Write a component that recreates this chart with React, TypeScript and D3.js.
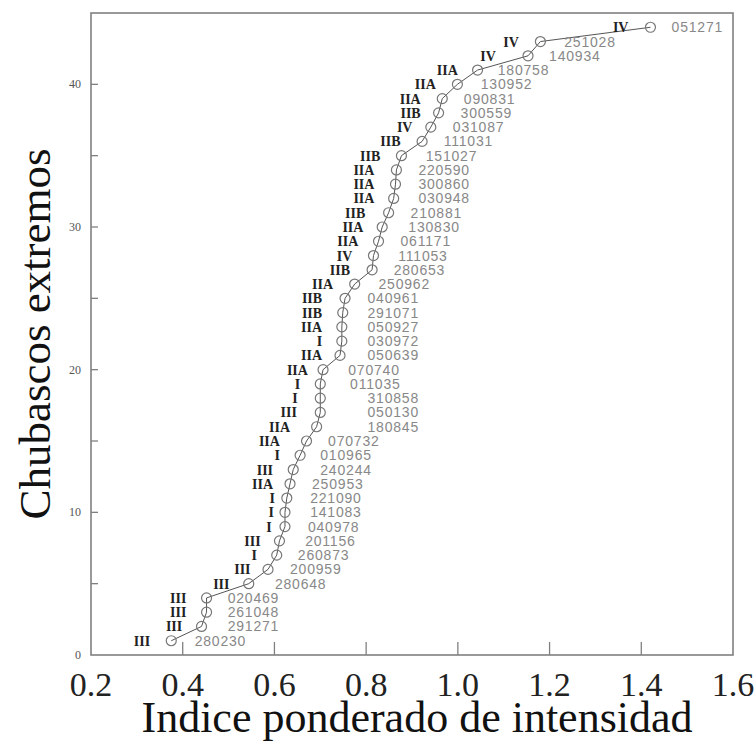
import React from "react";
import * as d3 from "d3";

const rank = d3.range(1, 45);
const indexValues = [
  0.375, 0.441, 0.452, 0.452, 0.544, 0.586, 0.605, 0.611, 0.623, 0.623,
  0.627, 0.634, 0.641, 0.656, 0.670, 0.692, 0.700, 0.700, 0.700, 0.706,
  0.743, 0.747, 0.747, 0.749, 0.754, 0.775, 0.813, 0.816, 0.827, 0.835,
  0.849, 0.860, 0.864, 0.866, 0.877, 0.922, 0.941, 0.958, 0.966, 0.999,
  1.043, 1.153, 1.180, 1.420,
];
const dates = [
  "280230", "291271", "261048", "020469", "280648", "200959", "260873", "201156", "040978", "141083",
  "221090", "250953", "240244", "010965", "070732", "180845", "050130", "310858", "011035", "070740",
  "050639", "030972", "050927", "291071", "040961", "250962", "280653", "111053", "061171", "130830",
  "210881", "030948", "300860", "220590", "151027", "111031", "031087", "300559", "090831", "130952",
  "180758", "140934", "251028", "051271",
];
const types = [
  "III", "III", "III", "III", "III", "III", "I", "III", "I", "I",
  "I", "IIA", "III", "I", "IIA", "IIA", "III", "I", "I", "IIA",
  "IIA", "I", "IIA", "IIB", "IIB", "IIA", "IIB", "IV", "IIA", "IIA",
  "IIB", "IIA", "IIA", "IIA", "IIB", "IIB", "IV", "IIB", "IIA", "IIA",
  "IIA", "IV", "IV", "IV",
];
// label anchors in index units
const dateLabelX = [
  0.426, 0.498, 0.498, 0.498, 0.601, 0.634, 0.651, 0.667, 0.673, 0.678,
  0.678, 0.682, 0.700, 0.700, 0.717, 0.803, 0.803, 0.803, 0.765, 0.761,
  0.803, 0.803, 0.803, 0.803, 0.803, 0.827, 0.860, 0.870, 0.875, 0.892,
  0.897, 0.914, 0.914, 0.914, 0.930, 0.969, 0.989, 1.006, 1.013, 1.050,
  1.087, 1.199, 1.232, 1.466,
];
const typeLabelX = [
  0.329, 0.399, 0.408, 0.408, 0.502, 0.548, 0.562, 0.570, 0.594, 0.599,
  0.601, 0.597, 0.597, 0.612, 0.612, 0.634, 0.649, 0.651, 0.656, 0.673,
  0.704, 0.704, 0.704, 0.704, 0.704, 0.728, 0.765, 0.770, 0.783, 0.794,
  0.798, 0.818, 0.818, 0.818, 0.831, 0.875, 0.901, 0.919, 0.919, 0.952,
  1.000, 1.083, 1.133, 1.372,
];
const xTicks = [0.2, 0.4, 0.6, 0.8, 1.0, 1.2, 1.4, 1.6];
const yTicks = [0, 10, 20, 30, 40];
const yMinorTicks = [5, 15, 25, 35];

export default function App() {
  const W = 755, H = 742;
  const left = 91, right = 733, top = 13, bottom = 655;
  const x = d3.scaleLinear().domain([0.2, 1.6]).range([left, right]);
  const y = d3.scaleLinear().domain([0, 45]).range([bottom, top]);
  const line = d3.line<number>().x((d) => x(indexValues[d])).y((d) => y(rank[d]));
  const idx = d3.range(indexValues.length);
  const frame = "#808080";
  return (
    <svg width={W} height={H} style={{ position: "absolute", left: 0, top: 0, background: "#fff" }}>
      <rect x={left} y={top} width={right - left} height={bottom - top} fill="none" stroke={frame} strokeWidth={1.6} />
      {xTicks.slice(1, -1).map((t) => (
        <line key={t} x1={x(t)} x2={x(t)} y1={bottom} y2={bottom - 13} stroke={frame} strokeWidth={1.3} />
      ))}
      {[...yTicks, ...yMinorTicks].filter((t) => t > 0).map((t) => (
        <line key={t} x1={left} x2={left + 7} y1={y(t)} y2={y(t)} stroke={frame} strokeWidth={1.3} />
      ))}
      {xTicks.map((t) => (
        <text key={t} x={x(t)} y={696} textAnchor="middle" fontFamily="Liberation Serif" fontSize={34} fill="#222">
          {t.toFixed(1)}
        </text>
      ))}
      {yTicks.map((t) => (
        <text key={t} x={81} y={y(t) + 4} textAnchor="end" fontFamily="Liberation Serif" fontSize={12} fill="#555">
          {t}
        </text>
      ))}
      <text x={(left + right) / 2 + 5} y={732} textAnchor="middle" fontFamily="Liberation Serif" fontSize={44} fill="#111">
        Indice ponderado de intensidad
      </text>
      <text transform={`translate(50,${(top + bottom) / 2}) rotate(-90)`} textAnchor="middle" fontFamily="Liberation Serif" fontSize={45} fill="#111">
        Chubascos extremos
      </text>
      <path d={line(idx) || ""} fill="none" stroke="#555" strokeWidth={1} />
      {idx.map((i) => (
        <circle key={i} cx={x(indexValues[i])} cy={y(rank[i])} r={5} fill="none" stroke="#777" strokeWidth={1.2} />
      ))}
      {idx.map((i) => (
        <text key={"d" + i} x={x(dateLabelX[i])} y={y(rank[i]) + 5} fontFamily="Liberation Sans" fontSize={14} fill="#888" letterSpacing={0.8}>
          {dates[i]}
        </text>
      ))}
      {idx.map((i) => (
        <text key={"t" + i} x={x(typeLabelX[i])} y={y(rank[i]) + 5} textAnchor="end" fontFamily="Liberation Serif" fontWeight="bold" fontSize={14} fill="#222">
          {types[i]}
        </text>
      ))}
    </svg>
  );
}
